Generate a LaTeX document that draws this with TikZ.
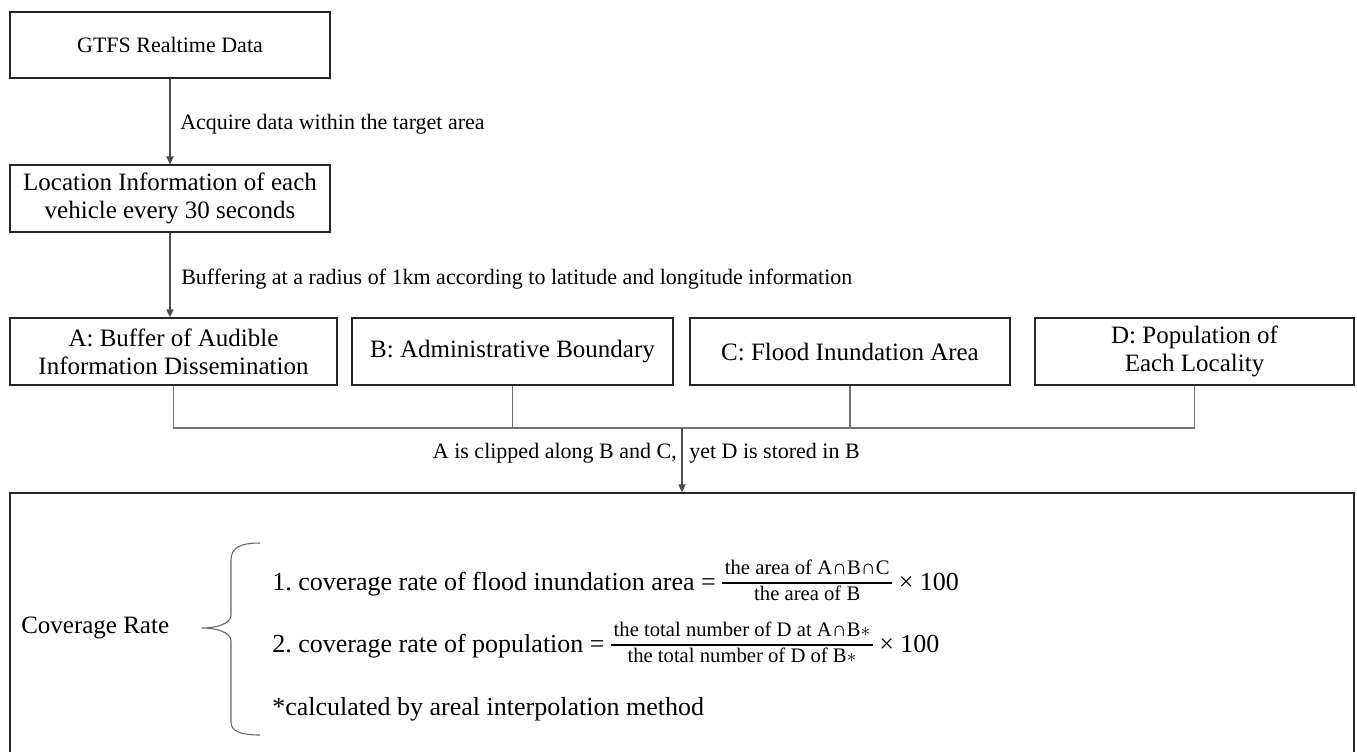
\documentclass[tikz,border=0pt]{standalone}
\usepackage{fontspec}
\setmainfont{Liberation Serif}
\usetikzlibrary{arrows.meta, positioning}
\frenchspacing

\newcommand\ratiofont{\fontsize{15.5}{17}\selectfont}
\newcommand\ratio[2]{$\vcenter{\halign{\hfil\kern2pt##\kern2pt\hfil\cr
  \ratiofont\strut #1\cr\noalign{\kern0.5pt\hrule height1.4pt\kern1pt}
  \ratiofont\strut #2\cr}}$}

\begin{document}
\begin{tikzpicture}[x=0.75pt, y=-0.75pt,
  font=\fontsize{18.75}{21}\selectfont,
  box/.style={draw=black!85, line width=1.1pt, align=center, inner sep=0pt},
  wire/.style={draw=black!55, line width=0.8pt},
  flow/.style={wire, draw=black!70, -{Triangle[length=6pt, width=5.5pt]}},
  note/.style={font=\fontsize{16.5}{19}\selectfont, inner sep=0pt},
  eq/.style={font=\fontsize{19.5}{22}\selectfont, inner sep=0pt, anchor=base west}]

  \useasboundingbox (0,0) rectangle (1357,751);

  % data source and vehicle positions
  \node[box, minimum width=240pt, minimum height=49.5pt,
        font=\fontsize{16.5}{19}\selectfont] (gtfs) at (170,45) {GTFS Realtime Data};
  \node[box, minimum width=240pt, minimum height=50pt] (loc) at (170,198.5)
    {Location Information of each\\ vehicle every 30 seconds};
  \draw[flow] (gtfs) -- (loc);
  \node[note, anchor=west] (acq) at (180,124) {Acquire data within the target area};

  % four layers
  \node[box, minimum width=245.25pt, minimum height=50.25pt] (bufA) at (173.5,351.5)
    {A: Buffer of Audible\\ Information Dissemination};
  \node[box, minimum width=240.75pt, minimum height=50.25pt] (bndB) at (512.5,351.5)
    {B: Administrative Boundary};
  \node[box, minimum width=240pt, minimum height=50.25pt] (fldC) at (850,351.5)
    {C: Flood Inundation Area};
  \node[box, minimum width=239.25pt, minimum height=50.25pt] (popD) at (1194.5,351.5)
    {D: Population of\\ Each Locality};
  \draw[flow] (loc) -- (loc |- bufA.north);
  \node[note, anchor=west] (buf) at (181,279)
    {Buffering at a radius of 1km according to latitude and longitude information};

  % merge
  \coordinate (j) at (682,428);
  \draw[wire] (bufA.south) |- (j) -| (popD.south);
  \draw[wire] (bndB.south) -- (bndB.south |- j);
  \draw[wire] (fldC.south) -- (fldC.south |- j);

  \node[box, minimum width=1008pt, minimum height=195.75pt] (cov) at (682,623.5) {};
  \draw[flow] (j) -- (cov);
  \node[note, anchor=east] (clip) at (677,453) {A is clipped along B and C,};
  \node[note, anchor=west] (store) at (689,453) {yet D is stored in B};

  % coverage rate
  \node[anchor=west, inner sep=0pt] (rate) at (21,628) {Coverage Rate};
  \draw[draw=black!60, line width=0.8pt]
    (260,543) .. controls (240,543) and (231,548) .. (231,560) -- (231,615)
    .. controls (231,624) and (216,628) .. (202,628)
    .. controls (216,628) and (231,632) .. (231,641) -- (231,722)
    .. controls (231,731) and (240,735) .. (260,735);

  \node[eq] (flood) at (272,590) {1. coverage rate of flood inundation area =
    \ratio{the area of A∩B∩C}{the area of B} × 100};
  \node[eq] (pop) at (272,652) {2. coverage rate of population =
    \ratio{the total number of D at A∩B$\ast$}{the total number of D of B$\ast$} × 100};
  \node[eq] (interp) at (272,715) {*calculated by areal interpolation method};
\end{tikzpicture}
\end{document}
